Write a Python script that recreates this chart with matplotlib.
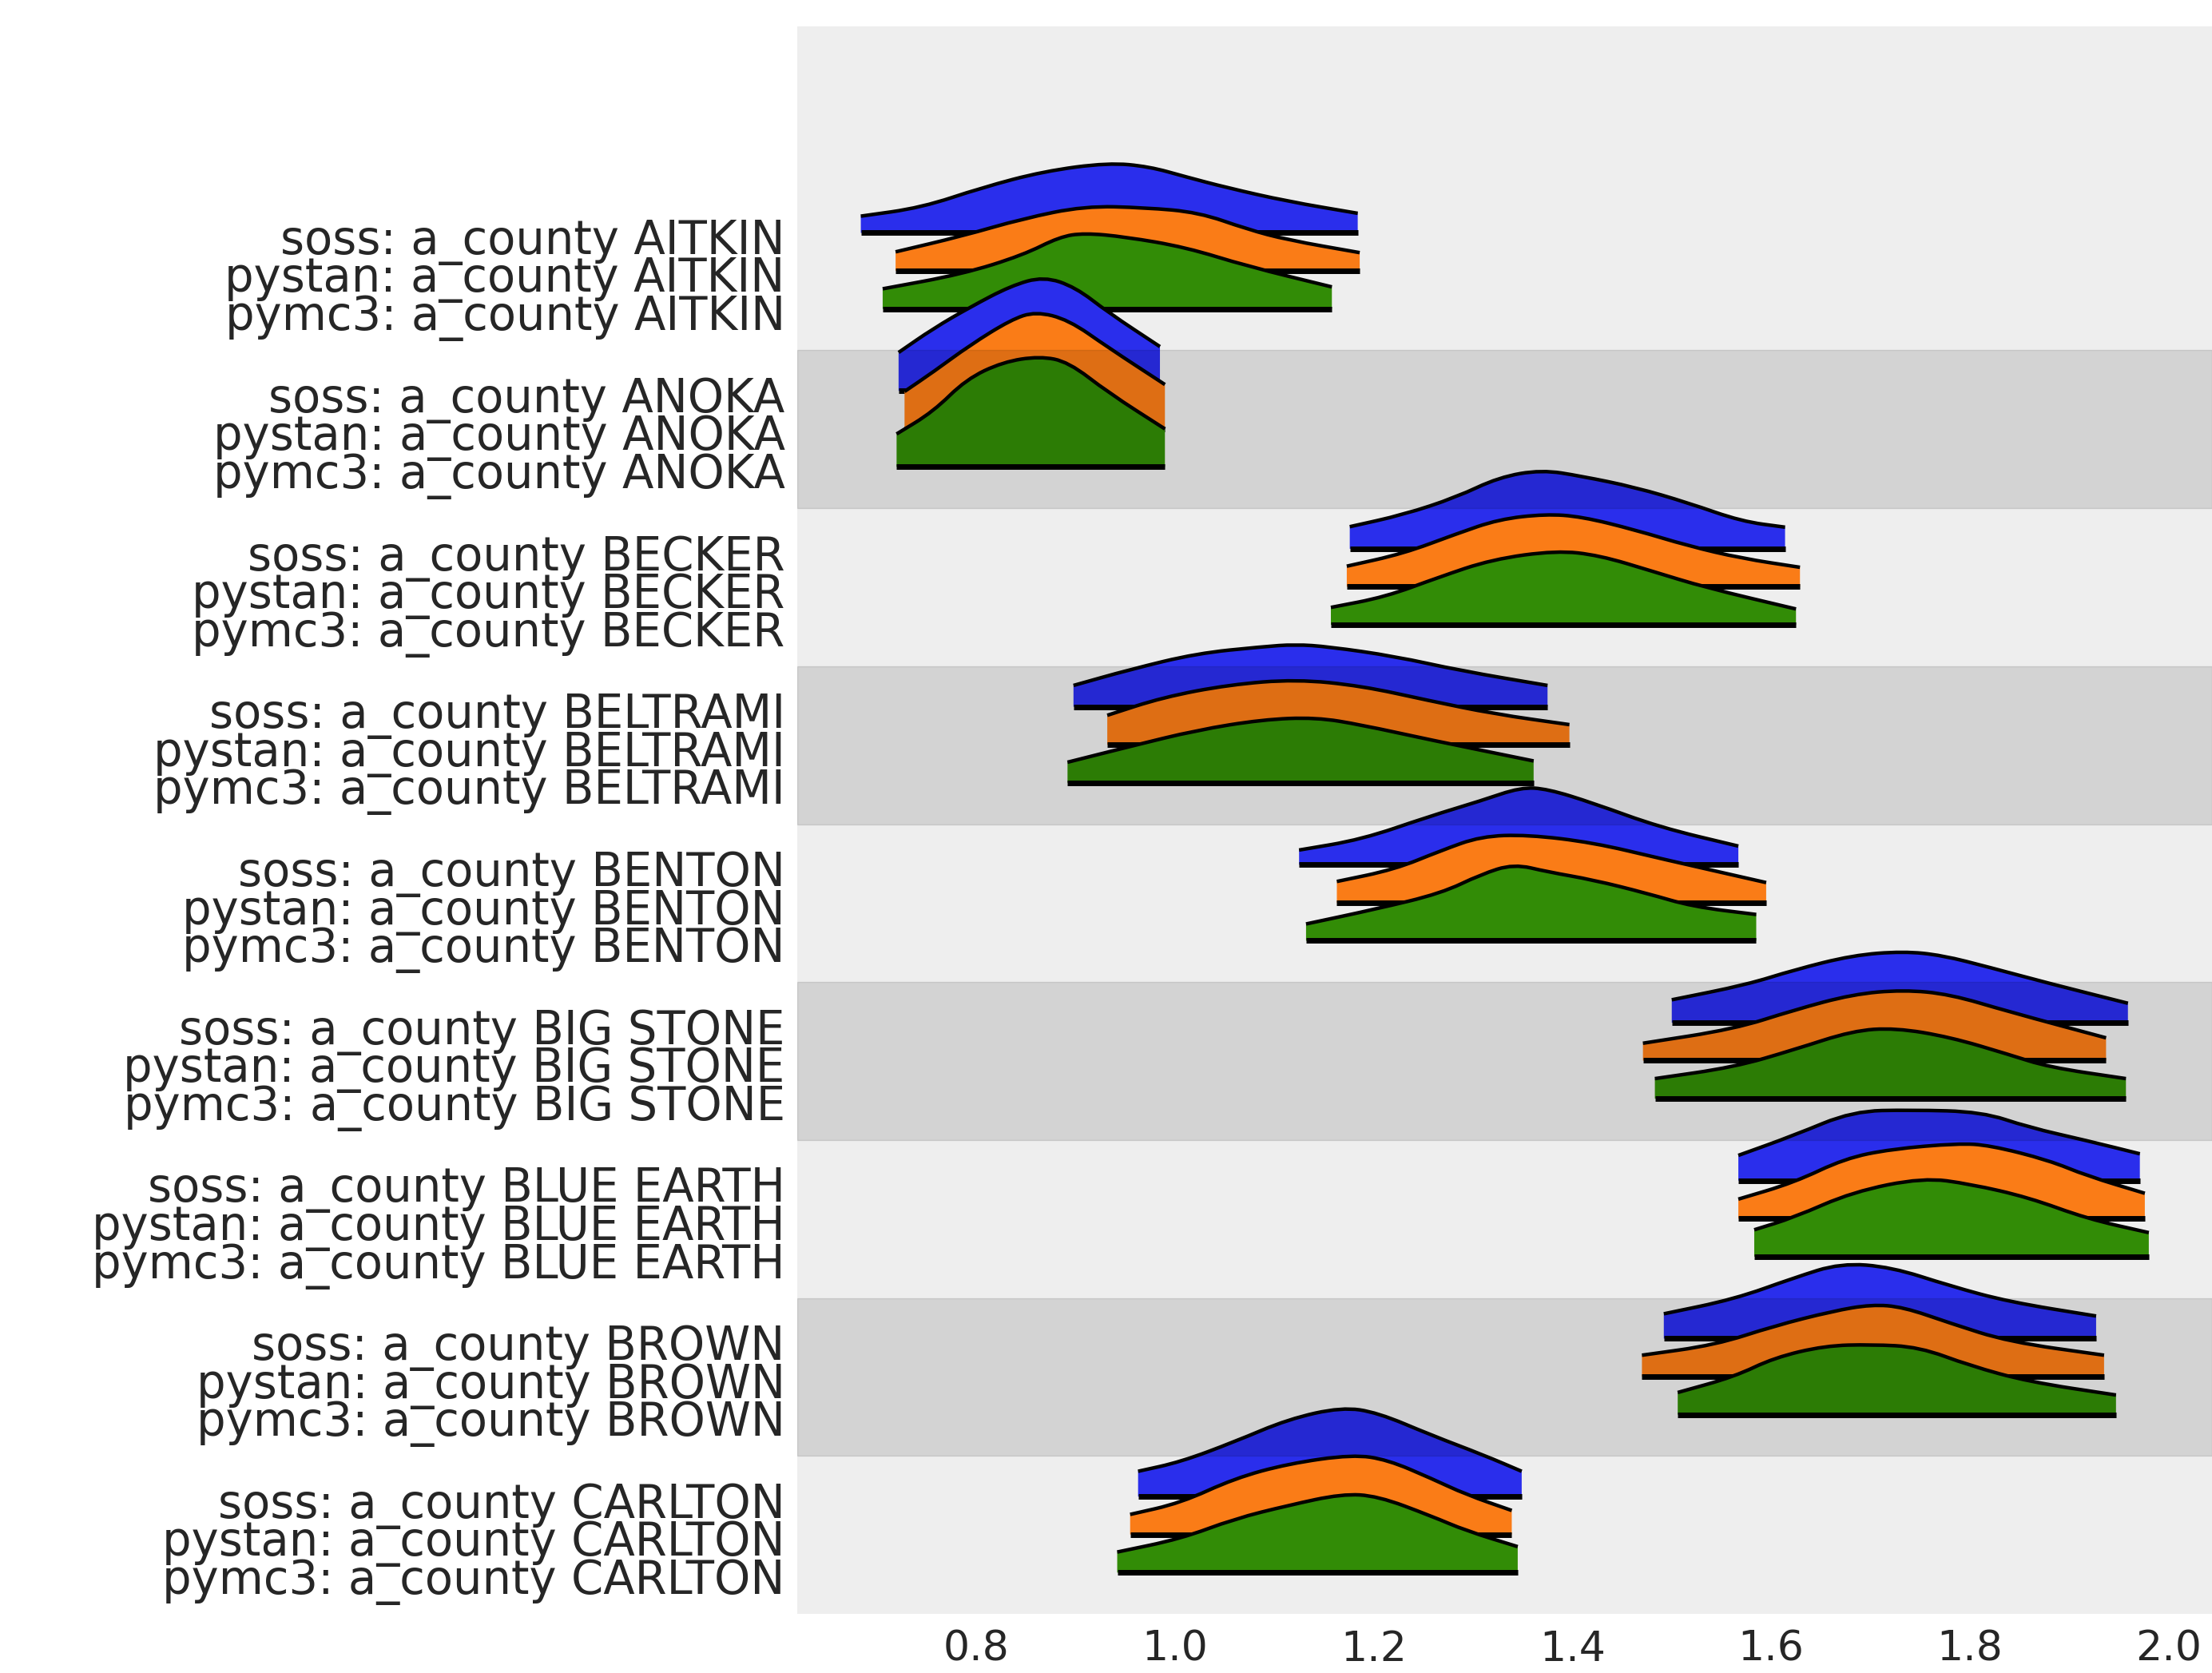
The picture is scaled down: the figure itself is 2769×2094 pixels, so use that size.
import matplotlib.pyplot as plt
import matplotlib.transforms as mtransforms
from matplotlib.path import Path
from matplotlib.patches import PathPatch
import numpy as np

# ridgeplot: posterior of a_county for three libraries
counties = ['AITKIN', 'ANOKA', 'BECKER', 'BELTRAMI', 'BENTON',
            'BIG STONE', 'BLUE EARTH', 'BROWN', 'CARLTON']
models = ['soss', 'pystan', 'pymc3']
colors = ['#2a2eec', '#fa7c17', '#328c06']
xticks = [0.8, 1.0, 1.2, 1.4, 1.6, 1.8, 2.0]

# x positions along each ridge (county order as above)
soss_x = [
    [0.684, 0.745, 0.806, 0.868, 0.933, 0.974, 1.011, 1.052, 1.113, 1.184],
    [0.722, 0.757, 0.794, 0.835, 0.868, 0.900, 0.933, 0.985],
    [1.176, 1.230, 1.283, 1.326, 1.369, 1.409, 1.463, 1.517, 1.570, 1.614],
    [0.898, 0.955, 1.022, 1.088, 1.121, 1.155, 1.221, 1.288, 1.375],
    [1.125, 1.188, 1.255, 1.308, 1.348, 1.375, 1.421, 1.488, 1.567],
    [1.500, 1.575, 1.623, 1.682, 1.733, 1.772, 1.820, 1.879, 1.959],
    [1.567, 1.623, 1.682, 1.741, 1.812, 1.859, 1.918, 1.971],
    [1.492, 1.563, 1.623, 1.670, 1.721, 1.780, 1.839, 1.927],
    [0.963, 1.006, 1.060, 1.114, 1.168, 1.204, 1.258, 1.311, 1.349],
]
soss_h = [
    [0.106, 0.160, 0.287, 0.390, 0.444, 0.420, 0.355, 0.287, 0.200, 0.124],
    [0.243, 0.395, 0.530, 0.665, 0.724, 0.656, 0.496, 0.280],
    [0.140, 0.216, 0.326, 0.453, 0.500, 0.460, 0.390, 0.290, 0.174, 0.137],
    [0.135, 0.236, 0.338, 0.380, 0.395, 0.380, 0.320, 0.228, 0.135],
    [0.093, 0.160, 0.304, 0.405, 0.490, 0.480, 0.390, 0.237, 0.118],
    [0.145, 0.240, 0.334, 0.427, 0.452, 0.427, 0.350, 0.250, 0.123],
    [0.160, 0.287, 0.440, 0.448, 0.436, 0.338, 0.253, 0.170],
    [0.157, 0.250, 0.385, 0.478, 0.453, 0.334, 0.233, 0.143],
    [0.160, 0.220, 0.347, 0.490, 0.566, 0.532, 0.389, 0.262, 0.160],
]
pystan_x = [
    [0.719, 0.786, 0.847, 0.909, 0.970, 1.024, 1.073, 1.113, 1.186],
    [0.728, 0.757, 0.794, 0.835, 0.860, 0.893, 0.933, 0.990],
    [1.173, 1.230, 1.283, 1.326, 1.373, 1.409, 1.463, 1.517, 1.570, 1.629],
    [0.932, 0.988, 1.055, 1.122, 1.188, 1.255, 1.321, 1.397],
    [1.163, 1.221, 1.268, 1.308, 1.355, 1.421, 1.488, 1.595],
    [1.471, 1.563, 1.623, 1.682, 1.733, 1.780, 1.839, 1.937],
    [1.567, 1.623, 1.674, 1.721, 1.788, 1.820, 1.879, 1.918, 1.976],
    [1.470, 1.544, 1.603, 1.662, 1.701, 1.733, 1.780, 1.839, 1.935],
    [0.955, 1.006, 1.060, 1.114, 1.179, 1.214, 1.258, 1.293, 1.339],
]
pystan_h = [
    [0.120, 0.220, 0.330, 0.410, 0.400, 0.370, 0.263, 0.196, 0.115],
    [0.236, 0.360, 0.530, 0.690, 0.742, 0.690, 0.514, 0.280],
    [0.130, 0.210, 0.334, 0.427, 0.460, 0.444, 0.360, 0.258, 0.180, 0.123],
    [0.186, 0.300, 0.380, 0.414, 0.372, 0.280, 0.195, 0.127],
    [0.134, 0.210, 0.330, 0.420, 0.430, 0.380, 0.280, 0.127],
    [0.110, 0.200, 0.320, 0.420, 0.448, 0.420, 0.310, 0.144],
    [0.123, 0.228, 0.380, 0.440, 0.476, 0.464, 0.370, 0.270, 0.160],
    [0.135, 0.200, 0.320, 0.414, 0.456, 0.440, 0.338, 0.220, 0.135],
    [0.127, 0.200, 0.355, 0.448, 0.506, 0.473, 0.355, 0.253, 0.152],
]
pymc3_x = [
    [0.706, 0.786, 0.847, 0.884, 0.909, 0.950, 1.011, 1.073, 1.158],
    [0.720, 0.757, 0.790, 0.827, 0.864, 0.893, 0.933, 0.990],
    [1.157, 1.212, 1.265, 1.319, 1.384, 1.427, 1.481, 1.534, 1.625],
    [0.892, 0.955, 1.022, 1.088, 1.142, 1.188, 1.255, 1.361],
    [1.132, 1.202, 1.268, 1.308, 1.341, 1.375, 1.421, 1.475, 1.521, 1.585],
    [1.483, 1.563, 1.623, 1.682, 1.725, 1.780, 1.839, 1.879, 1.957],
    [1.583, 1.623, 1.682, 1.753, 1.800, 1.859, 1.918, 1.980],
    [1.506, 1.563, 1.603, 1.654, 1.701, 1.749, 1.800, 1.859, 1.947],
    [0.942, 1.006, 1.060, 1.114, 1.168, 1.204, 1.258, 1.293, 1.345],
]
pymc3_h = [
    [0.127, 0.220, 0.340, 0.456, 0.480, 0.456, 0.390, 0.270, 0.139],
    [0.208, 0.350, 0.554, 0.664, 0.700, 0.664, 0.470, 0.240],
    [0.110, 0.177, 0.300, 0.414, 0.470, 0.440, 0.338, 0.236, 0.100],
    [0.130, 0.230, 0.333, 0.400, 0.414, 0.366, 0.274, 0.138],
    [0.106, 0.200, 0.300, 0.420, 0.486, 0.436, 0.385, 0.300, 0.216, 0.166],
    [0.127, 0.200, 0.310, 0.430, 0.448, 0.390, 0.280, 0.200, 0.127],
    [0.170, 0.248, 0.410, 0.500, 0.460, 0.375, 0.240, 0.152],
    [0.140, 0.240, 0.360, 0.436, 0.444, 0.428, 0.310, 0.208, 0.124],
    [0.130, 0.214, 0.340, 0.425, 0.498, 0.485, 0.358, 0.265, 0.164],
]

ridge_x = {'soss': soss_x, 'pystan': pystan_x, 'pymc3': pymc3_x}
ridge_h = {'soss': soss_h, 'pystan': pystan_h, 'pymc3': pymc3_h}
offsets = {'soss': 0.743, 'pystan': 0.503, 'pymc3': 0.262}


def ridge_top(x, y):
    # read points used as quadratic bezier control points -> smooth outline
    verts = [(x[0], y[0]), ((x[0] + x[1]) / 2, (y[0] + y[1]) / 2)]
    codes = [Path.MOVETO, Path.LINETO]
    for k in range(1, len(x) - 1):
        verts += [(x[k], y[k]), ((x[k] + x[k + 1]) / 2, (y[k] + y[k + 1]) / 2)]
        codes += [Path.CURVE3, Path.CURVE3]
    verts.append((x[-1], y[-1]))
    codes.append(Path.LINETO)
    return verts, codes


fig = plt.figure(figsize=(27.69, 20.94), dpi=100)
ax = fig.add_axes([0.3604, 0.0353, 0.6396, 0.9489])
ax.set_facecolor('#eeeeee')

n = len(counties)
ticks, labels = [], []
z = 2
for i, county in enumerate(counties):
    band = n - 1 - i
    for model, color in zip(models, colors):
        x = np.array(ridge_x[model][i])
        h = np.array(ridge_h[model][i])
        y = band + offsets[model]
        verts, codes = ridge_top(x, y + h)
        fill_path = Path([(x[0], y)] + verts + [(x[-1], y), (x[0], y)],
                         [Path.MOVETO] + [Path.LINETO] + codes[1:] + [Path.LINETO, Path.CLOSEPOLY])
        ax.add_patch(PathPatch(fill_path, facecolor=color, edgecolor='none', zorder=z))
        ax.add_patch(PathPatch(Path(verts, codes), facecolor='none', edgecolor='k',
                               lw=3.2, zorder=z + 0.1))
        ax.plot([x[0], x[-1]], [y, y], color='k', lw=5, zorder=z + 0.2,
                solid_capstyle='butt')
        z += 1
        ticks.append(y)
        labels.append(f'{model}: a_county {county}')

# alternate shading on top of the ridges
for k in range(1, n, 2):
    ax.axhspan(k, k + 1, color='k', alpha=0.11, zorder=z + 1)

ax.set_yticks(ticks)
ax.set_yticklabels(labels, fontsize=41.5, color='#262626')
ax.set_xticks(xticks)
ax.set_xticklabels([f'{t:.1f}' for t in xticks], fontsize=37.5, color='#262626')
ax.tick_params(axis='y', length=0, pad=11)
ax.tick_params(axis='x', length=0, pad=14)
ax.set_xlim(0.62, 2.0436)
ax.set_ylim(0, 10.05)
for s in ax.spines.values():
    s.set_visible(False)

shift = mtransforms.ScaledTranslation(0, -5 / 100, fig.dpi_scale_trans)
for lab in ax.get_yticklabels():
    lab.set_transform(lab.get_transform() + shift)

fig.savefig('out.png', dpi=100)
